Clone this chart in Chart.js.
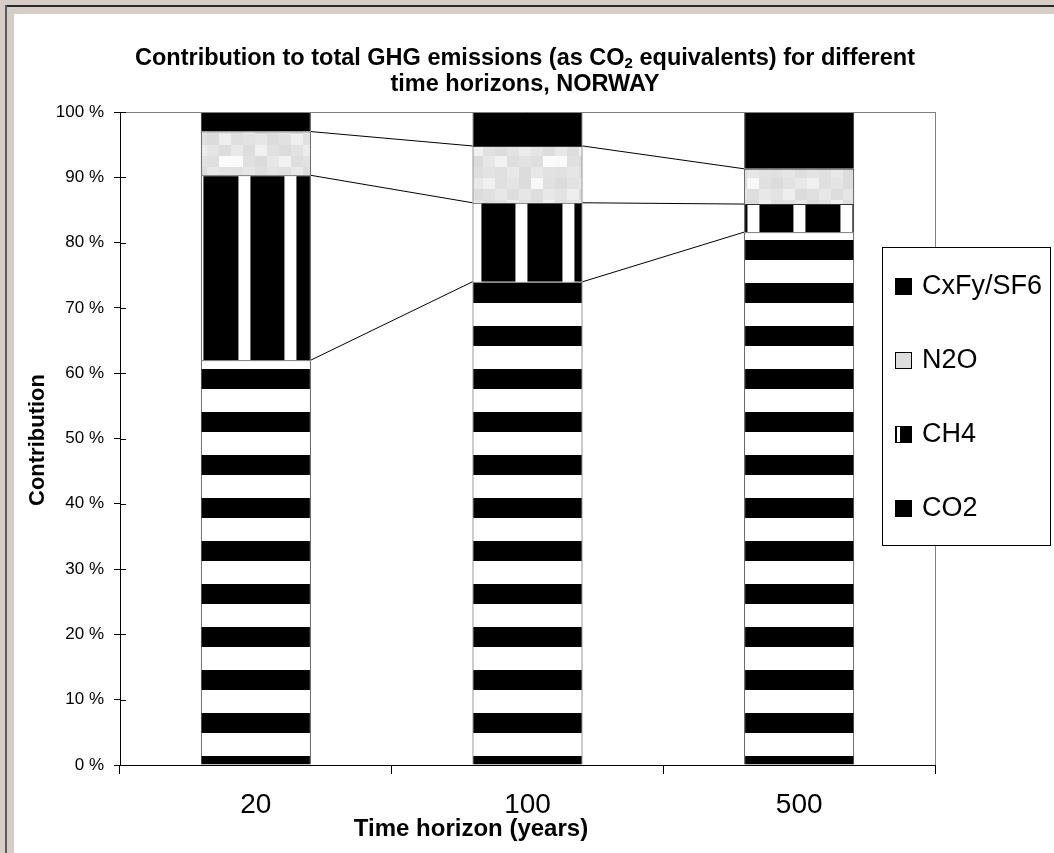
<!DOCTYPE html>
<html>
<head>
<meta charset="utf-8">
<title>GHG contribution by time horizon – Norway</title>
<script src="https://cdn.jsdelivr.net/npm/chart.js@4/dist/chart.umd.min.js"></script>
<style>
  html, body { margin: 0; padding: 0; }
  body { width: 1054px; height: 853px; background: #d6cec6; position: relative; overflow: hidden; }
  #frameTop { position: absolute; left: 5px; top: 5px; right: 0; height: 2px; background: #2a2a2a; }
  #frameLeft { position: absolute; left: 5px; top: 5px; bottom: 0; width: 2px; background: #5a5a5a; }
  #panel { position: absolute; left: 14px; top: 14px; width: 1040px; height: 839px; background: #fff; }
  canvas { display: block; }
</style>
</head>
<body>
<div id="frameTop"></div>
<div id="frameLeft"></div>
<div id="panel"><canvas id="chart" width="1040" height="839"></canvas></div>
<script>
// Time horizons (years) and each gas's share of total CO2-equivalent emissions (%)
const categories = ['20', '100', '500'];
const co2  = [62.0, 74.0, 81.6];
const ch4  = [28.3, 12.1, 4.3];
const n2o  = [6.7, 8.7, 5.4];
const cxfy = [3.0, 5.2, 8.7];
const seriesNames = ['CO2', 'CH4', 'N2O', 'CxFy/SF6'];
const yTickStep = 10;

const FONT = "'Liberation Sans', Arial, Helvetica, sans-serif";

// ---- fill patterns -------------------------------------------------------
function makeCanvas(w, h) {
  const c = document.createElement('canvas');
  c.width = w; c.height = h;
  return c;
}
const ctx = document.getElementById('chart').getContext('2d');

// horizontal black/white bands (CO2)
const hTile = makeCanvas(8, 43);
{
  const g = hTile.getContext('2d');
  g.fillStyle = '#fff'; g.fillRect(0, 0, 8, 43);
  g.fillStyle = '#000'; g.fillRect(0, 0, 8, 20);
}
const co2Fill = ctx.createPattern(hTile, 'repeat');

// vertical black bands with narrow white gaps (CH4)
const vPeriod = 46.3, vCount = 10;
const vTile = makeCanvas(Math.round(vPeriod * vCount), 8);
{
  const g = vTile.getContext('2d');
  g.fillStyle = '#000'; g.fillRect(0, 0, vTile.width, 8);
  g.fillStyle = '#fff';
  for (let k = 0; k < vCount; k++) g.fillRect(Math.round(k * vPeriod), 0, 12, 8);
}
const ch4Fill = ctx.createPattern(vTile, 'repeat');

// mottled light-grey cells (N2O)
const greyCells = [
  [0xdc, 0xe2, 0xe8, 0xf0, 0xdf, 0xe4, 0xdc, 0xf8, 0xe1],
  [0xe3, 0xee, 0xdb, 0xe0, 0xe7, 0xdd, 0xe6, 0xde, 0xe8],
  [0xdf, 0xe2, 0xe6, 0xdc, 0xe1, 0xef, 0xe0, 0xdb, 0xee],
  [0xe8, 0xdd, 0xf0, 0xe1, 0xdc, 0xe3, 0xec, 0xe5, 0xdd],
  [0xfa, 0xe0, 0xdb, 0xe7, 0xf2, 0xde, 0xe2, 0xdf, 0xfb],
  [0xe1, 0xe6, 0xde, 0xe3, 0xe0, 0xe8, 0xdc, 0xe7, 0xe2]
];
const cellW = 12, cellH = 11;
const gTile = makeCanvas(cellW * 9, cellH * 6);
{
  const g = gTile.getContext('2d');
  greyCells.forEach((row, r) => row.forEach((v, c) => {
    g.fillStyle = `rgb(${v},${v},${v})`;
    g.fillRect(c * cellW, r * cellH, cellW, cellH);
  }));
}
const n2oFill = ctx.createPattern(gTile, 'repeat');

// ---- drawing helpers ------------------------------------------------------
const decorations = {
  id: 'decorations',
  beforeDatasetsDraw(chart) {
    // anchor the stripe patterns to the plot
    const ca = chart.chartArea;
    const zero = chart.scales.y.getPixelForValue(0);
    co2Fill.setTransform(new DOMMatrix([1, 0, 0, 1, 0, zero - 9]));
    ch4Fill.setTransform(new DOMMatrix([1, 0, 0, 1, ca.left + 25.4, 0]));
    n2oFill.setTransform(new DOMMatrix([1, 0, 0, 1, ca.left + 3, ca.top]));
  },
  afterDraw(chart) {
    const g = chart.ctx;
    const ca = chart.chartArea;
    const ys = chart.scales.y;
    g.save();

    // plot area frame: grey top and right
    g.strokeStyle = '#808080';
    g.lineWidth = 1;
    g.beginPath();
    g.moveTo(ca.left, ca.top + 0.5); g.lineTo(ca.right + 0.5, ca.top + 0.5);
    g.moveTo(ca.right + 0.5, ca.top); g.lineTo(ca.right + 0.5, ca.bottom);
    g.stroke();

    // inner half of the value-axis tick marks
    g.strokeStyle = '#000';
    g.beginPath();
    ys.ticks.forEach(t => {
      const y = Math.round(ys.getPixelForValue(t.value)) + 0.5;
      g.moveTo(ca.left, y); g.lineTo(ca.left + 6, y);
    });
    g.stroke();

    // series lines joining the stacked segment tops of neighbouring bars
    // (the top series ends at 100 % and runs along the plot frame)
    g.strokeStyle = '#000';
    g.lineWidth = 1;
    g.beginPath();
    for (let d = 0; d < chart.data.datasets.length - 1; d++) {
      const meta = chart.getDatasetMeta(d);
      for (let i = 0; i < meta.data.length - 1; i++) {
        const a = meta.data[i].getProps(['x', 'y', 'width'], true);
        const b = meta.data[i + 1].getProps(['x', 'y', 'width'], true);
        g.moveTo(a.x + a.width / 2, a.y);
        g.lineTo(b.x - b.width / 2, b.y);
      }
    }
    g.stroke();

    // chart title (two lines, subscript 2)
    g.fillStyle = '#000';
    g.textBaseline = 'middle';
    const tSize = 23.5;
    const cx = 511;
    const parts = [
      { t: 'Contribution to total GHG emissions (as CO', s: tSize, dy: 0 },
      { t: '2', s: Math.round(tSize * 0.65), dy: 5 },
      { t: ' equivalents) for different', s: tSize, dy: 0 }
    ];
    let w = 0;
    parts.forEach(p => { g.font = `bold ${p.s}px ${FONT}`; p.w = g.measureText(p.t).width; w += p.w; });
    let x = cx - w / 2;
    g.textAlign = 'left';
    parts.forEach(p => { g.font = `bold ${p.s}px ${FONT}`; g.fillText(p.t, x, 45 + p.dy); x += p.w; });
    g.font = `bold ${tSize}px ${FONT}`;
    g.textAlign = 'center';
    g.fillText('time horizons, NORWAY', cx, 71);

    // axis titles
    g.font = `bold 24px ${FONT}`;
    g.fillText('Time horizon (years)', 457, 815);
    g.font = `bold 22px ${FONT}`;
    g.save();
    g.translate(24, 426);
    g.rotate(-Math.PI / 2);
    g.fillText('Contribution', 0, 0);
    g.restore();

    // legend box (drawn over the right edge of the plot)
    const lx = 868, ly = 233, lw = 168, lh = 298;
    g.fillStyle = '#fff';
    g.fillRect(lx, ly, lw, lh);
    g.strokeStyle = '#000';
    g.strokeRect(lx + 0.5, ly + 0.5, lw, lh);
    const order = [3, 2, 1, 0];
    order.forEach((d, k) => {
      const cy = 272 + k * 74;
      const mx = 881, my = Math.round(cy - 8), ms = 17;
      if (d === 2) {
        g.fillStyle = '#ddd';
        g.fillRect(mx, my, ms, ms);
      } else {
        g.fillStyle = '#000';
        g.fillRect(mx, my, ms, ms);
        if (d === 1) { g.fillStyle = '#fff'; g.fillRect(mx + 2, my + 1, 3, ms - 2); }
      }
      g.strokeStyle = '#000';
      g.strokeRect(mx + 0.5, my + 0.5, ms - 1, ms - 1);
      g.fillStyle = '#000';
      g.font = `27px ${FONT}`;
      g.textAlign = 'left';
      g.textBaseline = 'middle';
      g.fillText(seriesNames[d], 908, cy + 1);
    });
    g.restore();
  }
};

// ---- chart ---------------------------------------------------------------
const segBorder = '#333';
new Chart(ctx, {
  type: 'bar',
  data: {
    labels: categories,
    datasets: [
      { label: seriesNames[0], data: co2,  backgroundColor: co2Fill, borderColor: segBorder, borderWidth: 1 },
      { label: seriesNames[1], data: ch4,  backgroundColor: ch4Fill, borderColor: segBorder, borderWidth: 1 },
      { label: seriesNames[2], data: n2o,  backgroundColor: n2oFill, borderColor: segBorder, borderWidth: 1 },
      { label: seriesNames[3], data: cxfy, backgroundColor: '#000',  borderColor: segBorder, borderWidth: 1 }
    ]
  },
  options: {
    responsive: false,
    animation: false,
    events: [],
    categoryPercentage: 1,
    barPercentage: 0.405,
    layout: { padding: { top: 98, left: 6, right: 119, bottom: 28 } },
    plugins: { legend: { display: false }, title: { display: false }, tooltip: { enabled: false } },
    scales: {
      x: {
        stacked: true,
        grid: { offset: true, drawOnChartArea: false, tickLength: 9, color: '#000' },
        border: { color: '#000', width: 1 },
        ticks: { color: '#000', padding: 14, font: { family: FONT, size: 28 } },
        afterFit(s) { s.height = 60; }
      },
      y: {
        stacked: true,
        min: 0,
        max: 100,
        grid: { drawOnChartArea: false, tickLength: 6, color: '#000' },
        border: { color: '#000', width: 1 },
        ticks: {
          stepSize: yTickStep,
          color: '#000',
          padding: 10,
          font: { family: FONT, size: 17 },
          callback: v => v + ' %'
        },
        afterFit(s) { s.width = 100; }
      }
    }
  },
  plugins: [decorations]
});
</script>
</body>
</html>
